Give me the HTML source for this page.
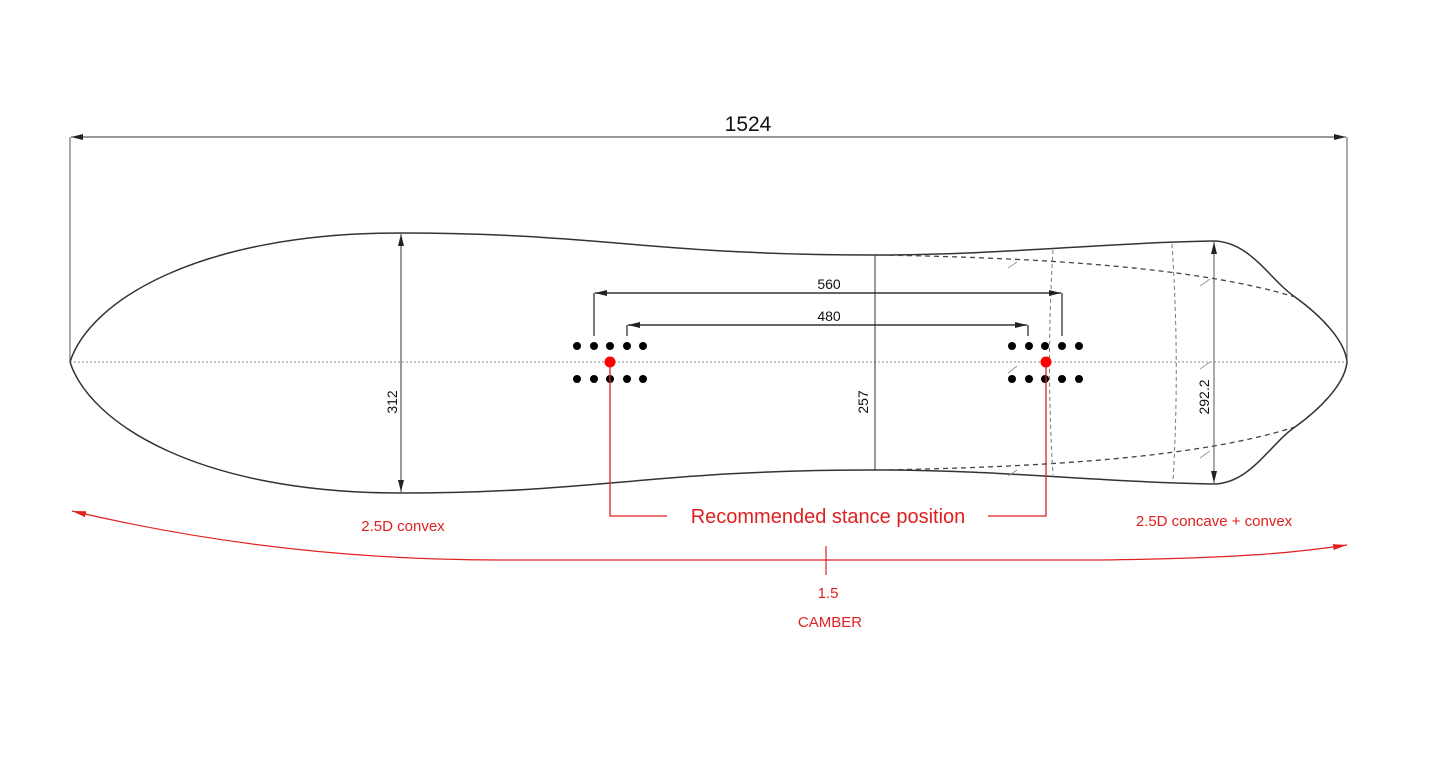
<!DOCTYPE html>
<html><head><style>
html,body{margin:0;padding:0;background:#fff;}
svg{display:block;}
text{font-family:"Liberation Sans",Arial,sans-serif;}
</style></head><body>
<svg width="1439" height="770" viewBox="0 0 1439 770" xmlns="http://www.w3.org/2000/svg">
<defs>
<marker id="ab" markerWidth="12" markerHeight="6" refX="12" refY="3" orient="auto-start-reverse" markerUnits="userSpaceOnUse"><path d="M0,0 L12,3 L0,6 Z" fill="#222"/></marker>
<marker id="ar" markerWidth="14" markerHeight="6" refX="14" refY="3" orient="auto-start-reverse" markerUnits="userSpaceOnUse"><path d="M0,0 L14,3 L0,6 Z" fill="#e02020"/></marker>
</defs>
<line x1="70" y1="137" x2="70" y2="362" stroke="#555" stroke-width="1"/>
<line x1="1347" y1="137" x2="1347" y2="362" stroke="#555" stroke-width="1"/>
<line x1="71" y1="137" x2="1346" y2="137" stroke="#333" stroke-width="1" marker-start="url(#ab)" marker-end="url(#ab)"/>
<text x="748" y="131" font-size="21" text-anchor="middle" fill="#111">1524</text>
<path d="M70,362 C90,300 200,233 400,233 C600,233 650,255 875,255 C1000,255 1100,243 1213,241 C1250,241 1270,280 1295,297 C1320,315 1345,340 1347,362 C1345,384 1320,409 1295,427 C1270,444 1250,484 1213,484 C1100,482 1000,470 875,470 C650,470 600,493 400,493 C200,493 90,424 70,362 Z" fill="none" stroke="#333" stroke-width="1.5"/>
<line x1="70" y1="362" x2="1347" y2="362" stroke="#888" stroke-width="1" stroke-dasharray="2,2"/>
<path d="M880,255 C1050,258 1200,268 1295,297" fill="none" stroke="#444" stroke-width="1.3" stroke-dasharray="5,4"/>
<path d="M880,470 C1050,467 1200,457 1295,427" fill="none" stroke="#444" stroke-width="1.3" stroke-dasharray="5,4"/>
<path d="M1053,250 Q1046,362 1053,475" fill="none" stroke="#777" stroke-width="1" stroke-dasharray="4,3"/>
<path d="M1172,244 Q1180,362 1173,481" fill="none" stroke="#777" stroke-width="1" stroke-dasharray="4,3"/>
<g stroke="#999" stroke-width="1">
<line x1="1008" y1="268" x2="1017" y2="262"/><line x1="1200" y1="286" x2="1210" y2="279"/>
<line x1="1008" y1="373" x2="1017" y2="366"/><line x1="1200" y1="369" x2="1210" y2="362"/>
<line x1="1008" y1="476" x2="1017" y2="470"/><line x1="1200" y1="458" x2="1210" y2="451"/>
</g>
<line x1="401" y1="234" x2="401" y2="492" stroke="#333" stroke-width="1" marker-start="url(#ab)" marker-end="url(#ab)"/>
<text transform="translate(397,402) rotate(-90)" font-size="14" text-anchor="middle" fill="#111">312</text>
<line x1="875" y1="255" x2="875" y2="470" stroke="#333" stroke-width="1"/>
<text transform="translate(868,402) rotate(-90)" font-size="14" text-anchor="middle" fill="#111">257</text>
<line x1="1214" y1="242" x2="1214" y2="483" stroke="#555" stroke-width="1" marker-start="url(#ab)" marker-end="url(#ab)"/>
<text transform="translate(1209,397) rotate(-90)" font-size="14" text-anchor="middle" fill="#111">292.2</text>
<line x1="594" y1="336" x2="594" y2="293" stroke="#333" stroke-width="1.3"/>
<line x1="1062" y1="336" x2="1062" y2="293" stroke="#333" stroke-width="1.3"/>
<line x1="595" y1="293" x2="1061" y2="293" stroke="#333" stroke-width="1.5" marker-start="url(#ab)" marker-end="url(#ab)"/>
<text x="829" y="289" font-size="14" text-anchor="middle" fill="#111">560</text>
<line x1="627" y1="336" x2="627" y2="325" stroke="#333" stroke-width="1.3"/>
<line x1="1028" y1="336" x2="1028" y2="325" stroke="#333" stroke-width="1.3"/>
<line x1="628" y1="325" x2="1027" y2="325" stroke="#333" stroke-width="1.5" marker-start="url(#ab)" marker-end="url(#ab)"/>
<text x="829" y="321" font-size="14" text-anchor="middle" fill="#111">480</text>
<g fill="#000">
<circle cx="577" cy="346" r="4"/><circle cx="594" cy="346" r="4"/><circle cx="610" cy="346" r="4"/><circle cx="627" cy="346" r="4"/><circle cx="643" cy="346" r="4"/>
<circle cx="577" cy="379" r="4"/><circle cx="594" cy="379" r="4"/><circle cx="610" cy="379" r="4"/><circle cx="627" cy="379" r="4"/><circle cx="643" cy="379" r="4"/>
<circle cx="1012" cy="346" r="4"/><circle cx="1029" cy="346" r="4"/><circle cx="1045" cy="346" r="4"/><circle cx="1062" cy="346" r="4"/><circle cx="1079" cy="346" r="4"/>
<circle cx="1012" cy="379" r="4"/><circle cx="1029" cy="379" r="4"/><circle cx="1045" cy="379" r="4"/><circle cx="1062" cy="379" r="4"/><circle cx="1079" cy="379" r="4"/>
</g>
<polyline points="610,362 610,516 667,516" fill="none" stroke="#e02020" stroke-width="1.3"/>
<polyline points="988,516 1046,516 1046,362" fill="none" stroke="#e02020" stroke-width="1.3"/>
<circle cx="610" cy="362" r="5.5" fill="#f00"/>
<circle cx="1046" cy="362" r="5.5" fill="#f00"/>
<text x="828" y="523" font-size="20" text-anchor="middle" fill="#e02020">Recommended stance position</text>
<path d="M72,511 C250,553 400,560 500,560 L1100,560 C1250,558 1300,552 1347,545" fill="none" stroke="#e02020" stroke-width="1.2" marker-start="url(#ar)" marker-end="url(#ar)"/>
<line x1="826" y1="546" x2="826" y2="575" stroke="#e02020" stroke-width="1.2"/>
<text x="403" y="531" font-size="15" text-anchor="middle" fill="#e02020">2.5D convex</text>
<text x="1214" y="526" font-size="15" text-anchor="middle" fill="#e02020">2.5D concave + convex</text>
<text x="828" y="598" font-size="15" text-anchor="middle" fill="#e02020">1.5</text>
<text x="830" y="627" font-size="15" text-anchor="middle" fill="#e02020">CAMBER</text>
</svg>
</body></html>
